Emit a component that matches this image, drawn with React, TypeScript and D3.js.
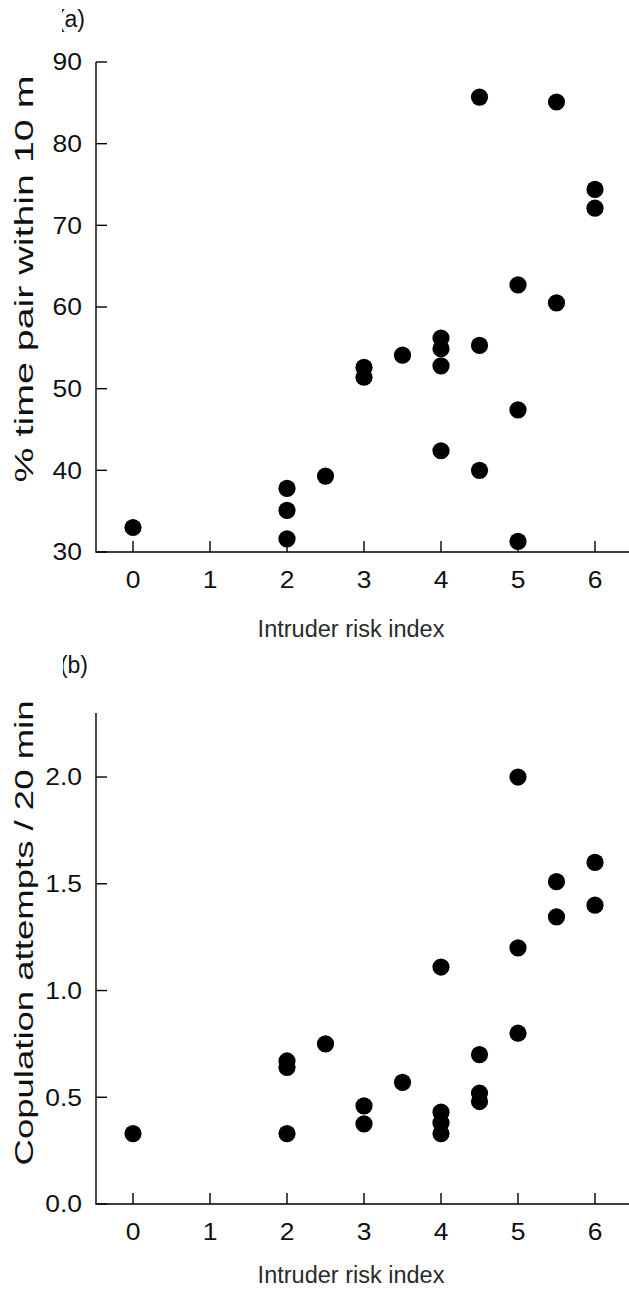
import React from 'react';
import * as d3 from 'd3';

// panel (a): % time pair within 10 m
const riskA = [0, 2, 2, 2, 2.5, 3, 3, 3.5, 4, 4, 4, 4, 4.5, 4.5, 4.5, 5, 5, 5, 5.5, 5.5, 6, 6];
const pctWithin10m = [33, 37.8, 35.1, 31.6, 39.3, 52.6, 51.4, 54.1, 56.2, 54.9, 52.8, 42.4, 85.7, 55.3, 40.0, 62.7, 47.4, 31.3, 85.1, 60.5, 74.4, 72.1];

// panel (b): copulation attempts / 20 min
const riskB = [0, 2, 2, 2, 2.5, 3, 3, 3.5, 4, 4, 4, 4, 4.5, 4.5, 4.5, 5, 5, 5, 5.5, 5.5, 6, 6];
const copulationRate = [0.33, 0.67, 0.64, 0.33, 0.75, 0.46, 0.375, 0.57, 1.11, 0.43, 0.38, 0.33, 0.7, 0.52, 0.48, 2.0, 1.2, 0.8, 1.51, 1.345, 1.6, 1.4];

const xTicks = [0, 1, 2, 3, 4, 5, 6];
const yTicksA = [30, 40, 50, 60, 70, 80, 90];
const yTicksB = [0, 0.5, 1.0, 1.5, 2.0];

const W = 629;
const H = 1291;
const FONT = "'Liberation Sans', Arial, Helvetica, sans-serif";
const INK = '#111';
const STRETCH = 1.15; // tick labels in the original are a bit wide

type PanelProps = {
  id: string;
  label: string;
  xs: number[];
  ys: number[];
  yTicks: number[];
  yDomain: [number, number];
  yRange: [number, number];
  yFormat: (v: number) => string;
  yTitle: string;
  yTitleCenter: number;
  yTitleLength: number;
  labelY: number;
  labelRight: number;
  labelClip: number;
  xLabelY: number;
  xTitleY: number;
};

const Panel = (p: PanelProps) => {
  const x = d3.scaleLinear().domain([0, 6]).range([133, 595]);
  const y = d3.scaleLinear().domain(p.yDomain).range(p.yRange);
  const axisX = 96;
  const base = p.yRange[0];
  const top = p.yRange[1];
  const tick = 11;

  return (
    <g>
      {/* panel letter, its opening bracket is cut off in the original */}
      <defs>
        <clipPath id={`clip-${p.id}`}>
          <rect x={p.labelClip} y={p.labelY - 30} width={50} height={40} />
        </clipPath>
      </defs>
      <g clipPath={`url(#clip-${p.id})`}>
        <text x={p.labelRight} y={p.labelY} textAnchor="end" fontSize={23} fill={INK}>
          {p.label}
        </text>
      </g>

      {/* axes */}
      <path d={`M${axisX},${top}V${base}H${W}`} fill="none" stroke="#000" strokeWidth={1.4} />
      {p.yTicks.map(t => (
        <g key={`yt${t}`}>
          <line x1={axisX} x2={axisX + tick} y1={y(t)} y2={y(t)} stroke="#000" strokeWidth={1.4} />
          <text
            transform={`translate(82,${y(t)}) scale(${STRETCH},1)`}
            dy="0.36em"
            textAnchor="end"
            fontSize={23}
            fill={INK}
          >
            {p.yFormat(t)}
          </text>
        </g>
      ))}
      {xTicks.map(t => (
        <g key={`xt${t}`}>
          <line x1={x(t)} x2={x(t)} y1={base} y2={base - tick} stroke="#000" strokeWidth={1.4} />
          <text
            transform={`translate(${x(t)},${p.xLabelY}) scale(${STRETCH},1)`}
            textAnchor="middle"
            fontSize={23}
            fill={INK}
          >
            {t}
          </text>
        </g>
      ))}

      <text x={351} y={p.xTitleY} textAnchor="middle" fontSize={23.5} fill="#2a2a2a">
        Intruder risk index
      </text>
      <text
        transform={`translate(33,${p.yTitleCenter}) rotate(-90)`}
        textAnchor="middle"
        fontSize={25}
        fill={INK}
        textLength={p.yTitleLength}
        lengthAdjust="spacingAndGlyphs"
      >
        {p.yTitle}
      </text>

      {p.xs.map((v, i) => (
        <circle key={i} cx={x(v)} cy={y(p.ys[i])} r={8.6} fill="#000" />
      ))}
    </g>
  );
};

export default function App() {
  return (
    <svg
      width={W}
      height={H}
      style={{ position: 'absolute', left: 0, top: 0, background: '#fff', fontFamily: FONT }}
    >
      <Panel
        id="a"
        label="(a)"
        xs={riskA}
        ys={pctWithin10m}
        yTicks={yTicksA}
        yDomain={[30, 90]}
        yRange={[552, 62]}
        yFormat={v => String(v)}
        yTitle="% time pair within 10 m"
        yTitleCenter={279}
        yTitleLength={407}
        labelY={27}
        labelRight={85}
        labelClip={62}
        xLabelY={588}
        xTitleY={637}
      />
      <Panel
        id="b"
        label="(b)"
        xs={riskB}
        ys={copulationRate}
        yTicks={yTicksB}
        yDomain={[0, 2.3]}
        yRange={[1204, 713]}
        yFormat={v => d3.format('.1f')(v)}
        yTitle="Copulation attempts / 20 min"
        yTitleCenter={933}
        yTitleLength={465}
        labelY={673}
        labelRight={88}
        labelClip={63}
        xLabelY={1240}
        xTitleY={1283}
      />
    </svg>
  );
}
